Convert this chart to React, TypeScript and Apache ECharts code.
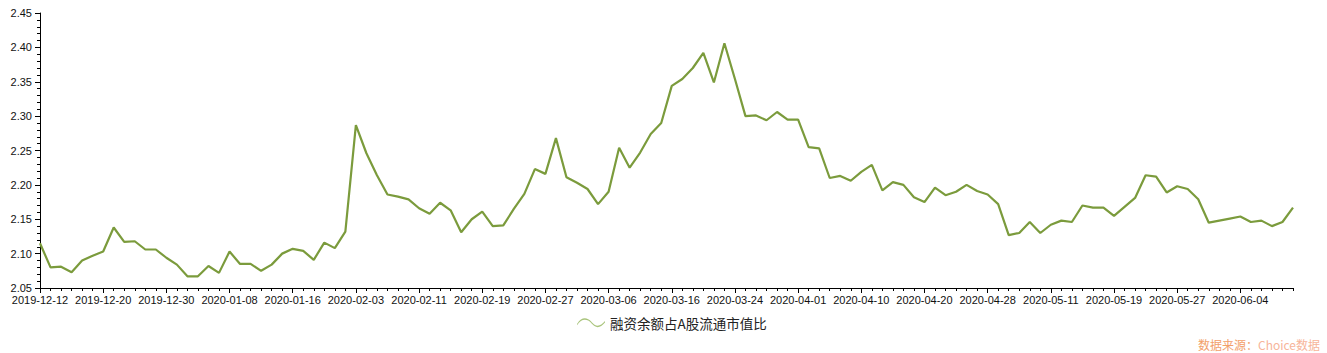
import React, { useEffect, useRef } from "react";
import * as echarts from "echarts";

const dates: string[] = [
  "2019-12-12", "2019-12-13", "2019-12-16", "2019-12-17", "2019-12-18", "2019-12-19",
  "2019-12-20", "2019-12-23", "2019-12-24", "2019-12-25", "2019-12-26", "2019-12-27",
  "2019-12-30", "2019-12-31", "2020-01-02", "2020-01-03", "2020-01-06", "2020-01-07",
  "2020-01-08", "2020-01-09", "2020-01-10", "2020-01-13", "2020-01-14", "2020-01-15",
  "2020-01-16", "2020-01-17", "2020-01-20", "2020-01-21", "2020-01-22", "2020-01-23",
  "2020-02-03", "2020-02-04", "2020-02-05", "2020-02-06", "2020-02-07", "2020-02-10",
  "2020-02-11", "2020-02-12", "2020-02-13", "2020-02-14", "2020-02-17", "2020-02-18",
  "2020-02-19", "2020-02-20", "2020-02-21", "2020-02-24", "2020-02-25", "2020-02-26",
  "2020-02-27", "2020-02-28", "2020-03-02", "2020-03-03", "2020-03-04", "2020-03-05",
  "2020-03-06", "2020-03-09", "2020-03-10", "2020-03-11", "2020-03-12", "2020-03-13",
  "2020-03-16", "2020-03-17", "2020-03-18", "2020-03-19", "2020-03-20", "2020-03-23",
  "2020-03-24", "2020-03-25", "2020-03-26", "2020-03-27", "2020-03-30", "2020-03-31",
  "2020-04-01", "2020-04-02", "2020-04-03", "2020-04-07", "2020-04-08", "2020-04-09",
  "2020-04-10", "2020-04-13", "2020-04-14", "2020-04-15", "2020-04-16", "2020-04-17",
  "2020-04-20", "2020-04-21", "2020-04-22", "2020-04-23", "2020-04-24", "2020-04-27",
  "2020-04-28", "2020-04-29", "2020-04-30", "2020-05-06", "2020-05-07", "2020-05-08",
  "2020-05-11", "2020-05-12", "2020-05-13", "2020-05-14", "2020-05-15", "2020-05-18",
  "2020-05-19", "2020-05-20", "2020-05-21", "2020-05-22", "2020-05-25", "2020-05-26",
  "2020-05-27", "2020-05-28", "2020-05-29", "2020-06-01", "2020-06-02", "2020-06-03",
  "2020-06-04", "2020-06-05", "2020-06-08", "2020-06-09", "2020-06-10", "2020-06-11",
];

const ratio: number[] = [
  2.115, 2.080, 2.081, 2.073, 2.090, 2.097,
  2.103, 2.138, 2.117, 2.118, 2.106, 2.106,
  2.094, 2.084, 2.067, 2.067, 2.082, 2.072,
  2.103, 2.085, 2.085, 2.075, 2.084, 2.100,
  2.107, 2.104, 2.091, 2.116, 2.108, 2.132,
  2.287, 2.246, 2.214, 2.186, 2.183, 2.179,
  2.166, 2.158, 2.174, 2.163, 2.131, 2.150,
  2.161, 2.140, 2.141, 2.165, 2.187, 2.223,
  2.216, 2.268, 2.211, 2.203, 2.194, 2.172,
  2.190, 2.254, 2.225, 2.247, 2.274, 2.290,
  2.344, 2.354, 2.370, 2.392, 2.349, 2.406,
  2.354, 2.300, 2.301, 2.294, 2.306, 2.295,
  2.295, 2.255, 2.253, 2.210, 2.213, 2.206,
  2.219, 2.229, 2.192, 2.204, 2.200, 2.182,
  2.175, 2.196, 2.185, 2.190, 2.200, 2.191,
  2.186, 2.172, 2.127, 2.130, 2.146, 2.130,
  2.142, 2.148, 2.146, 2.170, 2.167, 2.167,
  2.155, 2.168, 2.181, 2.214, 2.212, 2.189,
  2.198, 2.194, 2.179, 2.145, 2.148, 2.151,
  2.154, 2.146, 2.148, 2.140, 2.146, 2.167,
];

const seriesName = "融资余额占A股流通市值比";
const sourceLabel = "数据来源：";
const sourceName = "Choice数据";

const FONT = "'Liberation Sans', Arial, sans-serif";
const CJK = "'Noto Sans CJK SC', 'Microsoft YaHei', sans-serif";

export default function App() {
  const ref = useRef<HTMLDivElement>(null);

  useEffect(() => {
    if (!ref.current) return;
    const chart = echarts.init(ref.current, null, { renderer: "svg" });
    chart.setOption({
      animation: false,
      backgroundColor: "#ffffff",
      grid: { left: 40, right: 34, top: 13, bottom: 65, containLabel: false },
      legend: {
        left: 577,
        top: 316,
        padding: 0,
        itemWidth: 28,
        itemHeight: 10,
        itemGap: 8,
        icon: "path://M0,7 C4,1 8,0 12,2 C16,4 18,9 22,9 C25,9 27,7 30,4 L30,5.5 C27,8.5 25,10.5 22,10.5 C18,10.5 15.5,5.5 12,3.5 C8,1.5 4,2.5 0,8.5 Z",
        data: [{ name: seriesName, itemStyle: { color: "#a9c47c" } }],
        textStyle: { color: "#222", fontSize: 13.5, fontFamily: CJK },
      },
      xAxis: [
        {
          type: "category",
          data: dates,
          boundaryGap: false,
          axisLine: { show: true, lineStyle: { color: "#000", width: 1 } },
          axisTick: { show: true, interval: 5, length: 5, lineStyle: { color: "#000" } },
          axisLabel: { interval: 5, color: "#111", fontSize: 11, fontFamily: FONT, margin: 6 },
          splitLine: { show: false },
        },
        {
          type: "category",
          data: dates,
          boundaryGap: false,
          position: "bottom",
          axisLine: { show: false },
          axisTick: { show: true, interval: 0, length: 3, lineStyle: { color: "#000" } },
          axisLabel: { show: false },
          splitLine: { show: false },
        },
      ],
      yAxis: {
        type: "value",
        min: 2.05,
        max: 2.45,
        interval: 0.05,
        axisLine: { show: true, lineStyle: { color: "#000", width: 1 } },
        axisTick: { show: true, length: 5, lineStyle: { color: "#000" } },
        minorTick: { show: true, splitNumber: 5, length: 3, lineStyle: { color: "#000" } },
        axisLabel: {
          color: "#111",
          fontSize: 11,
          fontFamily: FONT,
          margin: 8,
          formatter: (v: number) => v.toFixed(2),
        },
        splitLine: { show: false },
      },
      series: [
        {
          name: seriesName,
          type: "line",
          data: ratio,
          xAxisIndex: 0,
          symbol: "none",
          lineStyle: { color: "#7b9b3c", width: 2.2 },
          itemStyle: { color: "#7b9b3c" },
        },
      ],
      graphic: [
        {
          type: "text",
          right: 7,
          top: 338,
          style: {
            text: `{a|${sourceLabel}}{b|${sourceName}}`,
            rich: {
              a: { fill: "#f2a06a", fontSize: 12, fontFamily: CJK },
              b: { fill: "#f7b59a", fontSize: 12, fontFamily: CJK },
            },
          },
        },
      ],
    });
    return () => chart.dispose();
  }, []);

  return (
    <div
      ref={ref}
      style={{ position: "fixed", left: 0, top: 0, width: 1327, height: 353, background: "#fff" }}
    />
  );
}
